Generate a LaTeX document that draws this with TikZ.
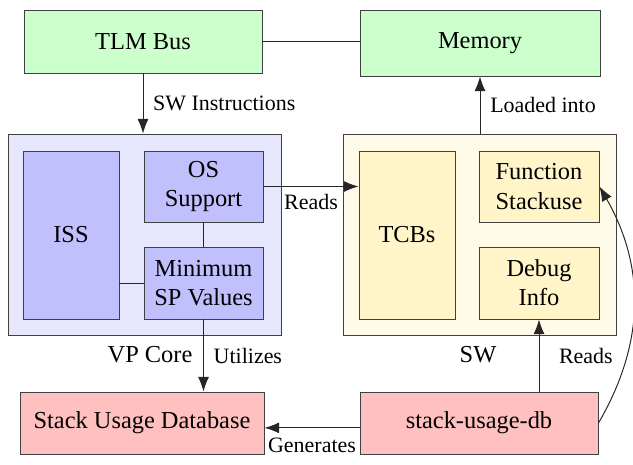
\documentclass[tikz,border=0pt]{standalone}
\usepackage{fontspec}
\setmainfont{Liberation Serif}
\usetikzlibrary{arrows.meta,calc}
\def\pxl{0.41pt}
\definecolor{busgreen}{RGB}{204,255,204}
\definecolor{vpback}{RGB}{230,230,252}
\definecolor{vppart}{RGB}{192,192,252}
\definecolor{swback}{RGB}{255,251,232}
\definecolor{swpart}{RGB}{255,245,200}
\definecolor{toolred}{RGB}{255,192,192}
\tikzset{
  box/.style={draw=black!75, align=center, inner sep=2pt},
  wh/.style 2 args={minimum width={#1*\pxl}, minimum height={#2*\pxl}},
  green box/.style={box, fill=busgreen},
  vp outer/.style={box, fill=vpback},
  vp inner/.style={box, fill=vppart},
  sw outer/.style={box, fill=swback},
  sw inner/.style={box, fill=swpart},
  red box/.style={box, fill=toolred},
  link/.style={draw=black!85},
  arrowlink/.style={link, -{Latex[length=6pt,width=4.5pt]}},
  lbl/.style={font=\small, inner sep=2pt},
  grouplbl/.style={font=\normalsize, inner sep=2pt},
}
\begin{document}
\begin{tikzpicture}[x=\pxl, y=-\pxl]
\useasboundingbox (0,0) rectangle (633,464);
% top row
\node[green box, wh={238}{63}] (tlm) at (143,41.5) {TLM Bus};
\node[green box, wh={240}{66}] (mem) at (480,43) {Memory};
% VP core and its parts
\node[vp outer, wh={273}{201}] (vp) at (144.5,234.5) {};
\node[vp inner, wh={96}{168}] (iss) at (71,235) {ISS};
\node[vp inner, wh={119}{71}] (os) at (203.5,186.5) {OS\\Support};
\node[vp inner, wh={119}{72}] (minsp) at (203.5,283) {Minimum\\SP Values};
\node[grouplbl] (vplabel) at (150,355) {VP Core};
% software and its parts
\node[sw outer, wh={273}{201}] (sw) at (479.5,234.5) {};
\node[sw inner, wh={96}{168}] (tcb) at (407,235) {TCBs};
\node[sw inner, wh={120}{71}] (fs) at (539,186.5) {Function\\Stackuse};
\node[sw inner, wh={120}{72}] (dbg) at (539,283) {Debug\\Info};
\node[grouplbl] (swlabel) at (478,355) {SW};
% bottom row
\node[red box, wh={244}{62}] (sud) at (142,423) {Stack Usage Database};
\node[red box, wh={238}{62}] (db) at (479,423) {stack-usage-db};
% connectors
\draw[link] (tlm.east) -- (tlm.east -| mem.west);
\draw[arrowlink] (tlm.south) -- (tlm.south |- vp.north)
  node[lbl, midway, anchor=west, xshift=2pt] {SW Instructions};
\draw[arrowlink] (sw.north -| mem.south) -- (mem.south)
  node[lbl, midway, anchor=west, xshift=2pt] {Loaded into};
\draw[link] (os.south) -- (minsp.north);
\draw[link] (minsp.west) -- (minsp.west -| iss.east);
\draw[arrowlink] (os.east) -- (os.east -| tcb.west)
  node[lbl, midway, below=1pt] {Reads};
\draw[arrowlink] (minsp.south) -- (minsp.south |- sud.north)
  node[lbl, midway, anchor=west, xshift=2pt] {Utilizes};
\draw[arrowlink] ([yshift=-2pt]db.west) -- ([yshift=-2pt]db.west -| sud.east)
  node[lbl, midway, below=2pt] {Generates};
\draw[arrowlink] (dbg.south |- db.north) -- (dbg.south)
  node[lbl, midway, anchor=west, xshift=6pt] {Reads};
\draw[arrowlink] (db.east) to[bend right=30] (fs.east);
\end{tikzpicture}
\end{document}
